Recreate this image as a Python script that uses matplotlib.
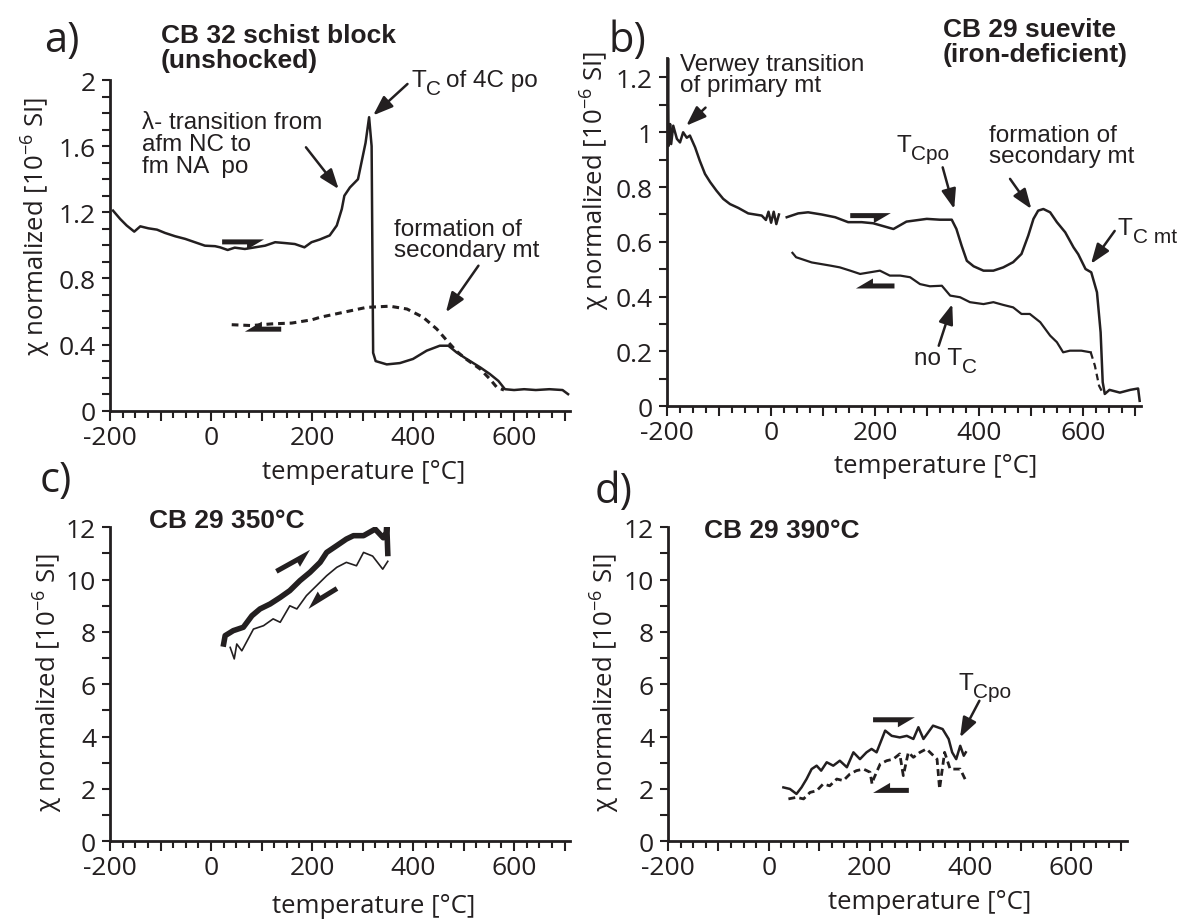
import matplotlib
matplotlib.use('Agg')
import matplotlib.pyplot as plt
from matplotlib.patches import FancyArrow
from matplotlib.transforms import IdentityTransform
from matplotlib.ticker import MultipleLocator, FuncFormatter

INK = '#231f20'
plt.rcParams['font.family'] = ['Open Sans', 'DejaVu Sans']

# ---- panel a: CB 32 schist block ----
a_heat_t = [-194, -180, -167, -152, -140, -124, -107, -91, -71, -51, -32, -12, 8, 18, 33, 47,
            67, 87, 107, 127, 146, 166, 185, 199, 215, 235, 249, 259, 264, 275, 291, 306,
            313, 318, 321, 326, 348, 374, 400, 427, 453, 470, 486, 506, 533, 552, 569,
            582, 600, 620, 643, 670, 696, 707]
a_heat_chi = [1.21, 1.16, 1.12, 1.083, 1.115, 1.103, 1.095, 1.075, 1.055, 1.039, 1.019, 0.998,
              0.995, 0.988, 0.972, 0.986, 0.978, 0.988, 0.998, 1.019, 1.014, 1.008, 0.988,
              1.019, 1.035, 1.06, 1.12, 1.22, 1.30, 1.35, 1.40, 1.62, 1.775, 1.6, 0.35, 0.30,
              0.28, 0.288, 0.313, 0.363, 0.393, 0.393, 0.353, 0.313, 0.262, 0.222, 0.18,
              0.13, 0.125, 0.13, 0.125, 0.13, 0.125, 0.10]
a_cool_t = [41, 80, 120, 160, 200, 216, 262, 308, 354, 388, 420, 447, 467, 486, 506, 533,
            552, 566, 580]
a_cool_chi = [0.52, 0.515, 0.525, 0.53, 0.55, 0.565, 0.595, 0.625, 0.632, 0.615, 0.565,
              0.494, 0.424, 0.36, 0.31, 0.252, 0.192, 0.141, 0.125]

# ---- panel b: CB 29 suevite ----
b_heat_t = [-199, -198, -197, -194, -192, -188, -181, -175, -169, -162, -156, -146, -137,
            -127, -117, -105, -92, -79, -63, -44, -18, -10, -5, 0, 5, 10, 15, 22, 30, 52,
            71, 97, 123, 148, 174, 196, 235, 260, 299, 324, 347, 356, 366, 376, 389, 408,
            427, 446, 465, 481, 494, 504, 513, 523, 536, 549, 565, 581, 590, 604, 615, 626,
            633, 637, 641, 650, 670, 690, 705, 708]
b_heat_chi = [0.97, 1.27, 0.95, 1.03, 0.957, 1.024, 0.976, 0.963, 1.0, 0.98, 0.988, 0.945,
              0.896, 0.848, 0.818, 0.787, 0.757, 0.738, 0.724, 0.704, 0.696, 0.68, 0.71,
              0.67, 0.71, 0.665, 0.70, float('nan'), 0.69, 0.704, 0.708, 0.70, 0.69, 0.672,
              0.672, 0.668, 0.647, 0.674, 0.684, 0.681, 0.681, 0.647, 0.586, 0.531, 0.511,
              0.495, 0.495, 0.507, 0.526, 0.556, 0.623, 0.684, 0.714, 0.72, 0.708, 0.672,
              0.635, 0.58, 0.555, 0.501, 0.489, 0.416, 0.27, 0.088, 0.045, 0.06, 0.05, 0.06,
              0.065, 0.02]
b_cool_t = [41, 48, 78, 115, 132, 152, 171, 190, 209, 228, 248, 267, 286, 305, 328, 344,
            363, 382, 408, 427, 446, 465, 481, 497, 517, 536, 549, 561, 574, 596, 614]
b_cool_chi = [0.56, 0.544, 0.525, 0.513, 0.507, 0.495, 0.483, 0.489, 0.495, 0.477, 0.477,
              0.471, 0.446, 0.438, 0.44, 0.404, 0.398, 0.38, 0.373, 0.38, 0.37, 0.361,
              0.337, 0.337, 0.307, 0.258, 0.234, 0.197, 0.203, 0.203, 0.197]
b_cool_end_t = [614, 622, 630, 638]
b_cool_end_chi = [0.197, 0.148, 0.075, 0.045]

# ---- panel c: CB 29 heated to 350 C ----
c_heat_t = [25, 28, 44, 64, 81, 97, 117, 137, 156, 176, 196, 216, 229, 249, 268, 282, 302,
            325, 341, 347, 348, 350]
c_heat_chi = [7.54, 7.86, 8.05, 8.18, 8.62, 8.88, 9.07, 9.32, 9.58, 9.96, 10.28, 10.66,
              11.04, 11.3, 11.55, 11.68, 11.68, 11.93, 11.6, 11.8, 12.1, 11.0]
c_cool_t = [38, 46, 51, 61, 84, 104, 123, 137, 156, 170, 189, 209, 229, 249, 268, 288, 302,
            320, 340, 350]
c_cool_chi = [7.41, 6.97, 7.54, 7.28, 8.11, 8.24, 8.5, 8.37, 9.0, 8.88, 9.39, 9.77, 10.15,
              10.47, 10.66, 10.53, 11.04, 10.9, 10.4, 10.7]

# ---- panel d: CB 29 heated to 390 C ----
d_heat_t = [29, 42, 55, 65, 75, 85, 95, 104, 115, 128, 141, 155, 168, 181, 194, 204, 214,
            231, 244, 260, 274, 287, 297, 307, 326, 345, 357, 364, 372, 380, 387, 391]
d_heat_chi = [2.06, 2.0, 1.81, 2.06, 2.38, 2.76, 2.89, 2.70, 3.02, 2.89, 3.08, 2.83, 3.40,
              3.14, 3.40, 3.53, 3.40, 4.23, 4.03, 3.97, 4.03, 3.91, 4.36, 3.91, 4.42, 4.29,
              3.91, 3.40, 3.14, 3.65, 3.27, 3.40]
d_cool_t = [39, 55, 69, 82, 95, 108, 121, 135, 148, 161, 174, 188, 201, 205, 208, 221, 234,
            247, 260, 267, 277, 287, 300, 313, 334, 339, 349, 360, 380, 391]
d_cool_chi = [1.62, 1.68, 1.62, 1.87, 1.93, 2.19, 2.12, 2.38, 2.32, 2.57, 2.70, 2.76, 2.64,
              2.19, 2.38, 2.95, 3.08, 3.14, 3.34, 2.51, 3.40, 3.21, 3.40, 3.53, 3.14, 2.0,
              3.40, 2.76, 2.76, 2.32]

W, H = 1185, 920
fig = plt.figure(figsize=(W / 100, H / 100), dpi=100)


def box(left, top, right, bottom):
    return [left / W, 1 - bottom / H, (right - left) / W, (bottom - top) / H]


ax_a = fig.add_axes(box(110, 81, 569.6, 411.7))
ax_b = fig.add_axes(box(667, 59.3, 1140.7, 407.3))
ax_c = fig.add_axes(box(110, 528.3, 569.6, 842.3))
ax_d = fig.add_axes(box(668, 528.3, 1126.5, 842.3))

xfmt = FuncFormatter(lambda v, p: f'{v:.0f}' if round(v) % 200 == 0 else '')
yfmt = FuncFormatter(lambda v, p: f'{v:g}')


def style(ax, ymax, ystep, yminor, label_xy, xlabel_xy):
    for s in ['top', 'right']:
        ax.spines[s].set_visible(False)
    for s in ['left', 'bottom']:
        ax.spines[s].set_linewidth(2)
        ax.spines[s].set_color(INK)
    ax.set_xlim(-200, 710)
    ax.set_ylim(0, ymax)
    ax.xaxis.set_major_locator(MultipleLocator(100))
    ax.xaxis.set_minor_locator(MultipleLocator(25))
    ax.xaxis.set_major_formatter(xfmt)
    ax.yaxis.set_major_locator(MultipleLocator(ystep))
    ax.yaxis.set_minor_locator(MultipleLocator(yminor))
    ax.yaxis.set_major_formatter(yfmt)
    ax.tick_params(which='both', direction='out', width=1.5, color=INK,
                   labelcolor=INK, labelsize=19)
    ax.tick_params(axis='x', which='major', length=7, pad=3)
    ax.tick_params(axis='x', which='minor', length=5)
    ax.tick_params(axis='y', which='both', length=6, pad=4)
    ax.set_ylabel('χ normalized [10$^{\\mathregular{-6}}$ SI]', fontsize=18.5, color=INK)
    ax.yaxis.set_label_coords(*label_xy)
    ax.yaxis.label.set_va('center')
    ax.set_xlabel('temperature [°C]', fontsize=18.5, color=INK)
    ax.xaxis.set_label_coords(*xlabel_xy)
    ax.xaxis.label.set_va('center')


style(ax_a, 2, 0.4, 0.1, (-0.163, 0.56), (0.553, -0.184))
style(ax_b, 1.27, 0.2, 0.1, (-0.154, 0.65), (0.567, -0.171))
style(ax_c, 12, 2, 1, (-0.137, 0.51), (0.574, -0.205))
style(ax_d, 12, 2, 1, (-0.14, 0.51), (0.57, -0.193))

# curves
ax_a.plot(a_heat_t, a_heat_chi, color=INK, lw=1.8)
ax_a.plot(a_cool_t, a_cool_chi, color=INK, lw=2.2, ls=(0, (2.2, 1.6)))
ax_b.plot(b_heat_t, b_heat_chi, color=INK, lw=1.8)
ax_b.plot(b_cool_t, b_cool_chi, color=INK, lw=1.6)
ax_b.plot(b_cool_end_t, b_cool_end_chi, color=INK, lw=1.6, ls=(0, (3, 2)))
ax_c.plot(c_heat_t, c_heat_chi, color=INK, lw=4.0)
ax_c.plot(c_cool_t, c_cool_chi, color=INK, lw=1.2)
ax_d.plot(d_heat_t, d_heat_chi, color=INK, lw=1.8)
ax_d.plot(d_cool_t, d_cool_chi, color=INK, lw=2.0, ls=(0, (2.5, 1.5)))


def harpoon(ax, x0, y0, x1, y1):
    p0 = ax.transData.transform((x0, y0))
    p1 = ax.transData.transform((x1, y1))
    arr = FancyArrow(p0[0], p0[1], p1[0] - p0[0], p1[1] - p0[1], width=10,
                     head_width=20, head_length=17, shape='left',
                     length_includes_head=True, transform=IdentityTransform(),
                     color=INK, lw=0)
    fig.add_artist(arr)


def pointer(ax, tail, head):
    ax.annotate('', xy=head, xytext=tail,
                arrowprops=dict(arrowstyle='-|>,head_length=0.6,head_width=0.22',
                                mutation_scale=20, lw=1.8, color=INK,
                                shrinkA=0, shrinkB=0))


TXT = dict(fontsize=17.5, family='Liberation Sans', color=INK)
SUB = dict(fontsize=15, family='Liberation Sans', color=INK)


def tc_text(ax, x, y, pre, sub, post=''):
    t1 = ax.text(x, y, pre + 'T', va='baseline', ha='left', **TXT)
    t2 = ax.annotate(sub, xy=(1, 0), xycoords=t1, xytext=(0, -5),
                     textcoords='offset points', va='bottom', ha='left', **SUB)
    if post:
        ax.annotate(post, xy=(1, 0), xycoords=t2, xytext=(4, 5),
                    textcoords='offset points', va='bottom', ha='left', **TXT)


harpoon(ax_a, 22, 1.036, 105, 1.036)
harpoon(ax_a, 139, 0.478, 67, 0.478)
harpoon(ax_b, 152, 0.705, 230, 0.705)
harpoon(ax_b, 237, 0.43, 163, 0.43)
harpoon(ax_c, 127, 10.4, 196, 11.14)
harpoon(ax_c, 252, 9.58, 193, 8.88)
harpoon(ax_d, 207, 4.74, 290, 4.74)
harpoon(ax_d, 278, 1.85, 207, 1.85)

# panel a notes
ax_a.text(-137.6, 1.81, 'λ- transition from\nafm NC to\nfm NA  po', va='top', ha='left',
          linespacing=1.0, **TXT)
pointer(ax_a, (188, 1.593), (252.8, 1.34))
tc_text(ax_a, 396, 1.962, '', 'C', 'of 4C po')
pointer(ax_a, (389, 1.976), (321, 1.786))
ax_a.text(362.6, 1.165, 'formation of\nsecondary mt', va='top', ha='left',
          linespacing=0.95, **TXT)
pointer(ax_a, (529.5, 0.877), (465, 0.595))

# panel b notes
ax_b.text(-174.5, 1.289, 'Verwey transition\nof primary mt', va='top', ha='left',
          linespacing=0.95, **TXT)
pointer(ax_b, (-126, 1.09), (-163, 1.024))
tc_text(ax_b, 240.6, 0.933, '', 'Cpo')
pointer(ax_b, (329.6, 0.872), (351.7, 0.72))
ax_b.text(418.5, 1.029, 'formation of\nsecondary mt', va='top', ha='left',
          linespacing=0.95, **TXT)
pointer(ax_b, (459, 0.83), (500, 0.72))
tc_text(ax_b, 666, 0.628, '', 'C mt')
pointer(ax_b, (660, 0.64), (614.5, 0.52))
tc_text(ax_b, 273.9, 0.154, 'no ', 'C')
pointer(ax_b, (322, 0.221), (348, 0.373))

# panel d notes
tc_text(ax_d, 375.6, 5.82, '', 'Cpo')
pointer(ax_d, (418, 5.37), (379.6, 3.97))

# titles and panel letters
BOLD = dict(fontsize=19, family='Liberation Sans', weight='bold', color=INK,
            va='top', ha='left', linespacing=1.05)
fig.text(160.7 / W, 1 - 24 / H, 'CB 32 schist block\n(unshocked)', **BOLD)
fig.text(942.6 / W, 1 - 18 / H, 'CB 29 suevite\n(iron-deficient)', **BOLD)
fig.text(149 / W, 1 - 509 / H, 'CB 29 350°C', **BOLD)
fig.text(703.5 / W, 1 - 519 / H, 'CB 29 390°C', **BOLD)

for lbl, x, y in [('a)', 44, 52), ('b)', 609, 52), ('c)', 40, 492), ('d)', 595, 503)]:
    fig.text(x / W, 1 - y / H, lbl, fontsize=30, color=INK, va='baseline', ha='left')

fig.savefig('out.png', dpi=100)
